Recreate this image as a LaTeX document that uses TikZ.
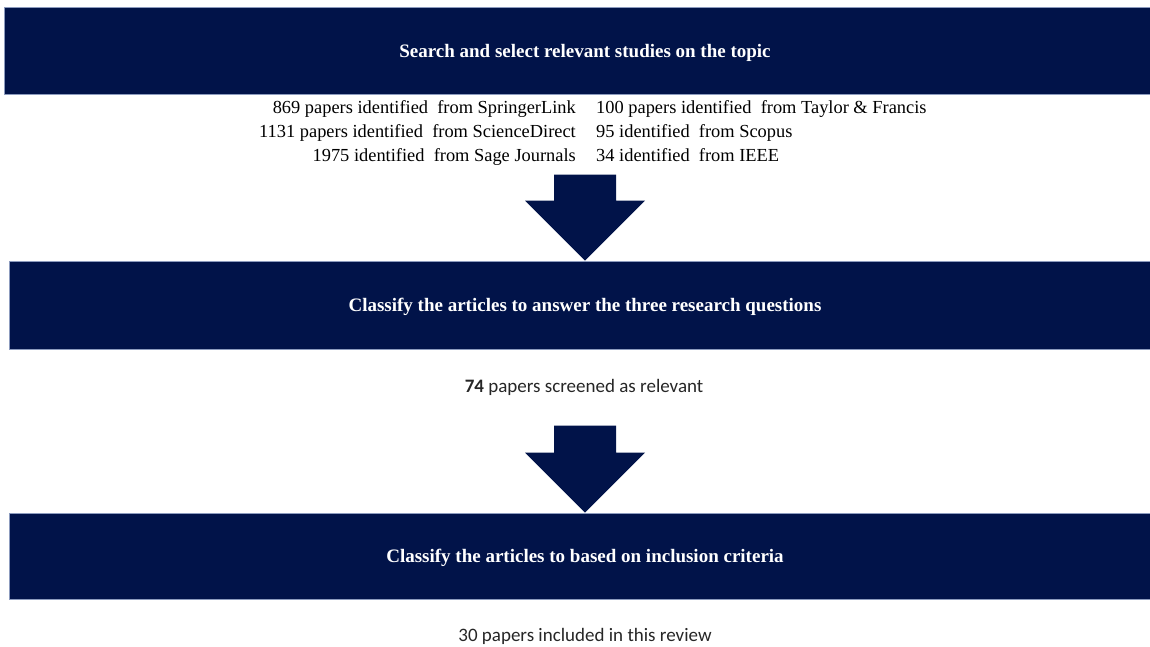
\documentclass[tikz,border=0pt]{standalone}
\usepackage{fontspec}
\setmainfont{Liberation Serif}
\newfontfamily\calibrifont{Carlito}
\usetikzlibrary{positioning}
\definecolor{navy}{RGB}{1,19,73}
\definecolor{rim}{RGB}{140,155,190}
\begin{document}
\begin{tikzpicture}[x=1pt,y=1pt,
    stagebox/.style={fill=navy, draw=rim, line width=0.8pt, minimum width=1152, text=white,
      font=\fontsize{19}{22}\selectfont\bfseries, inner sep=0pt, text depth=0pt},
    srctext/.style={font=\fontsize{18.4}{24}\selectfont, inner sep=0pt},
    resulttext/.style={font=\calibrifont\fontsize{19}{22}\selectfont, text=black!85, inner sep=0pt}]
  \clip (0,0) rectangle (1150,-646);
  \useasboundingbox (0,0) rectangle (1150,-646);

  \node[stagebox, minimum width=1162, minimum height=87] (search) at (585,-50.5) {Search and select relevant studies on the topic};
  \node[stagebox, minimum height=88] (classify) at (585,-305) {Classify the articles to answer the three research questions};
  \node[stagebox, minimum height=86] (include) at (585,-556) {Classify the articles to based on inclusion criteria};

  \node[srctext, anchor=north east, align=right] (srcleft) at (576,-100)
    {869 papers identified\ \ from SpringerLink\\1131 papers identified\ \ from ScienceDirect\\1975 identified\ \ from Sage Journals};
  \node[srctext, anchor=north west, align=left] (srcright) at (596,-100)
    {100 papers identified\ \ from Taylor \& Francis\\95 identified\ \ from Scopus\\34 identified\ \ from IEEE};

  \node[resulttext] (screened) at (584,-387) {\textbf{74} papers screened as relevant};
  \node[resulttext] (included) at (585,-636) {30 papers included in this review};

  % block arrows
  \fill[navy] (classify.north) -- ++(-60,60) -- ++(29,0) -- ++(0,26) -- ++(62,0) -- ++(0,-26) -- ++(29,0) -- cycle;
  \fill[navy] (include.north) -- ++(-60,60) -- ++(29,0) -- ++(0,27) -- ++(62,0) -- ++(0,-27) -- ++(29,0) -- cycle;
\end{tikzpicture}
\end{document}
